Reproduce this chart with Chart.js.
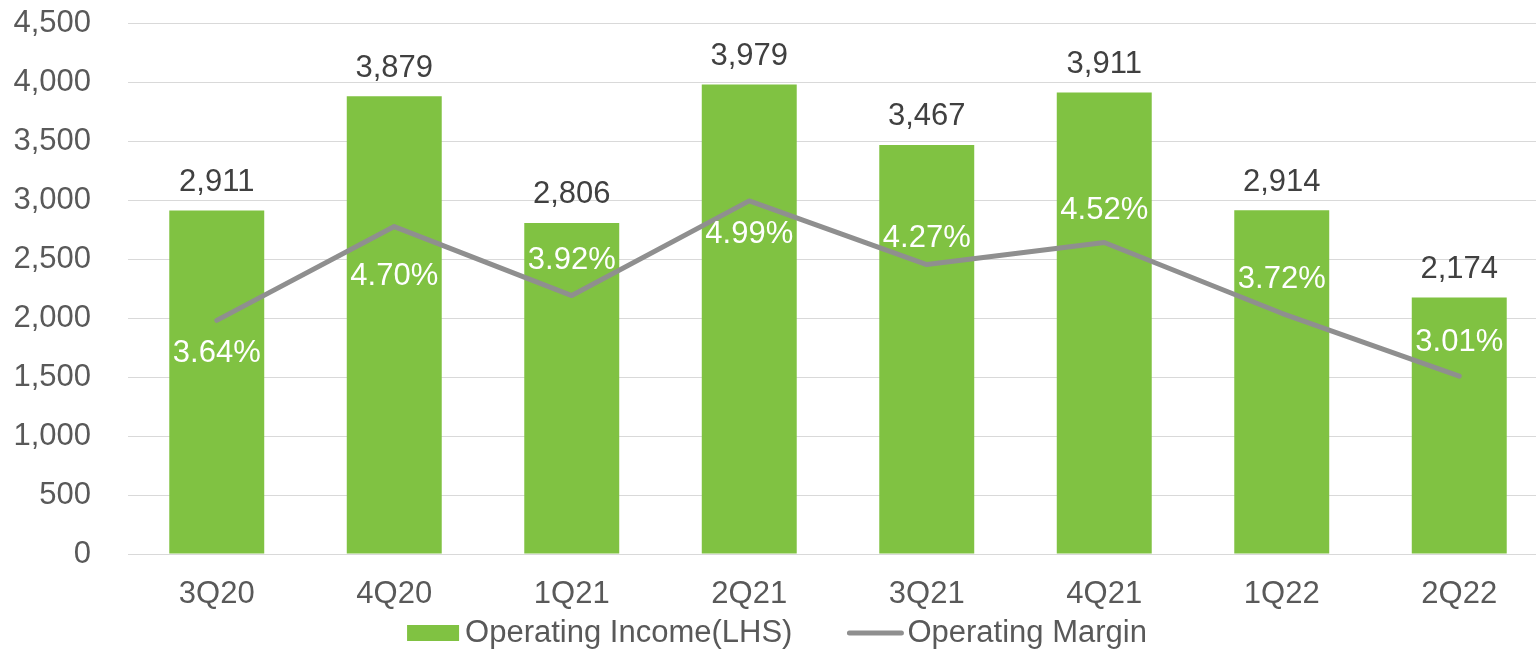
<!DOCTYPE html>
<html>
<head>
<meta charset="utf-8">
<script src="https://cdn.jsdelivr.net/npm/chart.js@4"></script>
<style>
    html, body { margin: 0; padding: 0; background: #fff; overflow: hidden; }
    #wrap { width: 1554px; height: 650px; }
</style>
</head>
<body>
<div id="wrap"><canvas id="chart"></canvas></div>
<script>
// dados do gráfico
const quarters = ['3Q20', '4Q20', '1Q21', '2Q21', '3Q21', '4Q21', '1Q22', '2Q22'];
const operatingIncome = [2911, 3879, 2806, 3979, 3467, 3911, 2914, 2174];
const operatingMargin = [3.64, 4.70, 3.92, 4.99, 4.27, 4.52, 3.72, 3.01];
const incomeTicks = [0, 500, 1000, 1500, 2000, 2500, 3000, 3500, 4000, 4500];

// deslocamento vertical dos rótulos de margem (px, + = abaixo do ponto)
const marginLabelOffsets = [33, 50, -35, 34, -26, -32, -34, -34];

const green = '#80C242';
const gray = '#8F8F8F';
const fontFamily = '"Liberation Sans", Arial, sans-serif';

// rótulos de valores sobre barras e linha
const valueLabels = {
    id: 'valueLabels',
    afterDatasetsDraw(chart) {
        const ctx = chart.ctx;
        ctx.save();
        ctx.font = '31px ' + fontFamily;
        ctx.textAlign = 'center';
        ctx.textBaseline = 'middle';

        const barMeta = chart.getDatasetMeta(0);
        ctx.fillStyle = '#404040';
        barMeta.data.forEach((bar, i) => {
            ctx.fillText(operatingIncome[i].toLocaleString('en-US'), bar.x, bar.y - 28);
        });

        const lineMeta = chart.getDatasetMeta(1);
        ctx.fillStyle = '#FFFFFF';
        lineMeta.data.forEach((pt, i) => {
            ctx.fillText(operatingMargin[i].toFixed(2) + '%', pt.x, pt.y + marginLabelOffsets[i]);
        });
        ctx.restore();
    }
};

// legenda desenhada à mão (espaçamento igual ao original)
const customLegend = {
    id: 'customLegend',
    afterDraw(chart) {
        const ctx = chart.ctx;
        const ds = chart.data.datasets;
        const y = 633;
        ctx.save();
        ctx.font = '31px ' + fontFamily;
        ctx.textBaseline = 'middle';
        ctx.textAlign = 'left';
        const w0 = ctx.measureText(ds[0].label).width;
        const w1 = ctx.measureText(ds[1].label).width;
        const total = 52 + 6 + w0 + 55 + 56 + 4 + w1;
        let x = chart.width / 2 - total / 2;

        ctx.fillStyle = ds[0].backgroundColor;
        ctx.fillRect(x, y - 8, 52, 16);
        x += 58;
        ctx.fillStyle = '#595959';
        ctx.fillText(ds[0].label, x, y);
        x += w0 + 55;

        ctx.strokeStyle = ds[1].borderColor;
        ctx.lineWidth = 5;
        ctx.lineCap = 'round';
        ctx.beginPath();
        ctx.moveTo(x + 2, y);
        ctx.lineTo(x + 54, y);
        ctx.stroke();
        x += 60;
        ctx.fillText(ds[1].label, x, y);
        ctx.restore();
    }
};

new Chart(document.getElementById('chart'), {
    type: 'bar',
    data: {
        labels: quarters,
        datasets: [
            {
                label: 'Operating Income(LHS)',
                data: operatingIncome,
                backgroundColor: green,
                borderWidth: 0,
                categoryPercentage: 1,
                barPercentage: 0.535,
                yAxisID: 'y',
                order: 1
            },
            {
                type: 'line',
                label: 'Operating Margin',
                data: operatingMargin,
                borderColor: gray,
                backgroundColor: gray,
                borderWidth: 5,
                borderCapStyle: 'round',
                borderJoinStyle: 'round',
                pointRadius: 0,
                pointHoverRadius: 0,
                tension: 0,
                fill: false,
                yAxisID: 'y1',
                order: 0
            }
        ]
    },
    options: {
        responsive: true,
        maintainAspectRatio: false,
        animation: false,
        layout: {
            padding: { left: 12, right: 6, top: 23, bottom: 40 }
        },
        plugins: {
            tooltip: { enabled: false },
            legend: { display: false }
        },
        scales: {
            x: {
                grid: { display: false },
                border: { display: false },
                afterFit: (axis) => { axis.height = 56; },
                ticks: {
                    color: '#595959',
                    padding: 14,
                    font: { family: fontFamily, size: 31 }
                }
            },
            y: {
                min: 0,
                max: 4500,
                afterBuildTicks: (axis) => {
                    axis.ticks = incomeTicks.map(v => ({ value: v }));
                },
                afterFit: (axis) => {
                    axis.width = 116;
                    axis.paddingTop = 0;
                    axis.paddingBottom = 0;
                },
                grid: { color: '#D9D9D9', lineWidth: 1, drawTicks: false },
                border: { display: false },
                ticks: {
                    color: '#595959',
                    padding: 37,
                    font: { family: fontFamily, size: 31 },
                    callback: (v) => Number(v).toLocaleString('en-US')
                }
            },
            y1: {
                display: false,
                min: 1,
                max: 7
            }
        }
    },
    plugins: [valueLabels, customLegend]
});
</script>
</body>
</html>
